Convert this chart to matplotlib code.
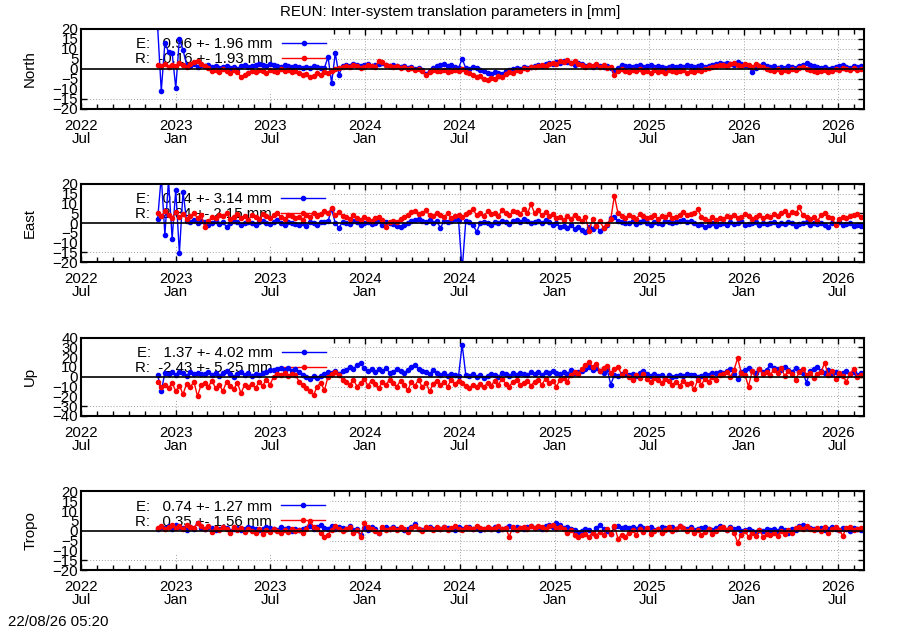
import matplotlib
matplotlib.use("Agg")
import matplotlib.pyplot as plt
import matplotlib.dates as mdates
from matplotlib.patches import Rectangle
import numpy as np
import pandas as pd

plt.rcParams['font.family'] = ['Liberation Sans', 'DejaVu Sans']
plt.rcParams['font.size'] = 10.8

# weekly samples (mm), first sample 2022-11-26
first_day = "2022-11-26"

north_e = [21.0, -11.0, 13.0, 8.5, 8.0, -9.5, 15.0, 9.5, 2.0, 1.5, 2.5, 1.0, 2.0,
           1.5, 2.0, 1.0, 1.5, 0.5, 1.0, 1.5, 0.5, 1.0, 0.0, 1.5, 2.0, 1.0,
           1.5, 2.0, 2.5, 2.0, 1.5, 2.5, 2.0, 1.5, 1.0, 2.0, 1.5, 1.0, 1.5,
           1.0, 0.5, 1.0, 0.5, 1.5, 1.0, 0.5, 0.5, 6.0, -7.0, 8.0, -3.0, 1.5,
           2.0, 1.5, 2.5, 2.0, 1.5, 2.0, 2.5, 1.5, 2.0, 2.5, 3.0, 2.0, 1.5,
           2.0, 1.5, 1.0, 1.5, 0.5, 1.0, 0.0, 0.5, -0.5, -2.5, -1.0, 0.5, 1.5,
           2.0, 2.5, 1.5, 2.0, 1.0, 0.5, 5.0, 0.5, 0.0, 1.0, 0.5, -0.5, -1.0,
           -2.0, -2.5, -1.5, -2.0, -2.5, -1.0, -0.5, 0.0, 0.5, 0.0, 1.0, 0.5, 1.0,
           1.5, 2.0, 1.5, 2.5, 3.0, 2.5, 3.5, 3.0, 4.0, 3.5, 3.0, 2.0, 3.0,
           2.5, 1.5, 2.0, 1.0, 2.0, 1.5, 1.0, 1.5, 0.5, -1.0, 0.5, 2.0, 1.5,
           1.5, 1.0, 1.5, 2.0, 1.0, 1.5, 2.0, 1.0, 1.5, 1.0, 0.5, 1.0, 1.5,
           1.0, 1.5, 1.0, 2.0, 1.5, 1.0, 1.5, 2.0, 1.0, 1.5, 2.0, 2.5, 3.0,
           2.5, 3.0, 2.5, 2.0, 3.5, 2.5, 2.0, 1.5, -1.5, 0.5, 1.5, 2.5, 1.5,
           1.0, 1.5, 0.5, 1.0, 0.5, 1.5, 1.0, 0.5, 1.5, 2.0, 3.0, 2.0, 1.5,
           1.0, 0.5, 1.0, 0.0, 0.5, 1.0, 1.5, 2.0, 1.0, 0.5, 1.5, 1.0, 1.5]
north_r = [2.0, 1.5, 2.5, 1.0, 2.0, 1.5, 3.0, 2.0, 1.0, 2.5, 3.5, 4.0, 2.5,
           1.5, 0.5, -1.0, -0.5, -1.5, 0.0, -1.0, -2.0, -0.5, -1.5, -4.0, -3.0, -2.0,
           -1.0, -1.5, -0.5, -1.0, -2.0, -0.5, -1.0, -1.5, 0.0, -1.0, -0.5, -1.5, -1.0,
           -2.0, -3.0, -2.5, -4.0, -3.5, -2.0, -3.0, -1.5, -2.0, -1.0, 0.0, 0.5, 1.0,
           1.5, 1.0, 2.0, 1.5, 0.5, 1.0, 2.0, 1.5, 1.0, 4.0, 3.5, 2.0, 1.5,
           1.0, 1.5, 0.5, 1.0, 0.0, 0.5, -0.5, 0.0, -1.0, -3.0, -1.5, -0.5, -1.0,
           -1.0, -0.5, -1.5, -1.0, -0.5, -1.0, 0.0, -1.5, -2.0, -3.0, -4.0, -3.5, -5.0,
           -5.5, -4.5, -5.0, -3.5, -4.0, -2.5, -1.5, -2.0, -0.5, -1.0, 0.5, 0.0, 1.0,
           1.0, 1.5, 2.0, 1.5, 2.5, 3.0, 2.5, 4.0, 3.5, 4.5, 3.0, 4.0, 2.5,
           2.0, 1.0, 2.0, 1.5, 2.5, 1.0, 2.0, 0.5, 1.0, -3.0, -1.0, 0.0, -1.0,
           -1.5, -0.5, -1.0, 0.0, -1.5, -1.0, -2.0, -0.5, -1.5, -1.0, -2.0, -0.5, -1.0,
           -1.5, -1.0, -0.5, -2.0, -1.0, -1.5, -0.5, -1.0, 0.0, 0.5, 1.0, 1.5, 2.0,
           2.0, 1.5, 2.5, 3.0, 2.0, 1.5, 2.5, 2.0, 1.0, 2.5, 1.5, 1.0, 0.0,
           -0.5, -1.0, 0.0, -1.5, -0.5, -1.0, 0.0, -0.5, 0.5, 1.0, 0.0, -0.5, -1.0,
           -1.5, -1.0, -0.5, -1.5, -1.0, 0.0, -0.5, 0.5, 0.0, -0.5, 0.5, -0.5, 0.0]

east_e = [2.0, 24.0, -6.0, 22.0, -8.0, 17.0, -15.5, 16.0, 1.0, 0.5, 1.5, 0.0, 1.0,
          0.5, -1.0, 0.0, 1.0, -0.5, 0.5, -2.0, 0.0, 1.0, 0.5, -1.0, 0.0, 0.5,
          0.0, -1.0, 0.5, 1.0, 0.0, -0.5, 0.5, 1.5, 0.0, -1.0, 0.5, 0.0, -0.5,
          -1.0, 0.0, -1.5, 0.5, 0.0, -1.0, 0.5, 0.5, 1.0, 7.0, 0.0, -2.5, 0.5,
          0.0, -0.5, 1.0, 0.5, -1.0, 0.0, 0.5, -0.5, 0.0, 1.0, -1.0, 0.5, 0.0,
          -0.5, -1.5, -2.0, -1.0, 0.0, 1.0, 1.5, 2.0, 1.0, 0.5, 1.5, 0.0, 1.0,
          -2.5, 1.0, 0.5, 1.0, 2.0, 1.5, -24.0, 1.0, 0.5, -1.0, -4.5, 0.0, 0.5,
          0.0, -1.0, 0.5, 0.0, 1.0, 0.5, -0.5, 1.0, 1.5, 0.5, 2.0, 1.0, 0.0,
          0.5, 1.0, 0.0, 1.5, 0.5, -1.0, 0.0, -2.0, -1.5, -2.5, -1.0, -3.0, -2.0,
          -3.5, -4.5, -2.0, -3.0, -1.5, -4.0, -2.5, -1.0, 2.5, 3.0, 1.0, 0.5, 0.0,
          0.0, 1.0, -0.5, 0.5, 1.0, 0.0, -1.0, 0.5, 0.0, -0.5, 1.0, 0.5, 0.0,
          0.5, 1.0, 1.5, 0.5, 1.0, 0.0, -1.0, -0.5, -2.0, -1.0, 0.0, -1.5, -0.5,
          0.0, -1.0, 0.5, -0.5, 0.0, 1.0, -1.0, -0.5, 0.0, 0.5, -1.0, 0.0, -0.5,
          0.0, 0.5, -1.0, 0.0, -0.5, 0.5, 0.0, -1.5, -0.5, 0.0, 0.5, -1.0, 0.0,
          -0.5, 0.0, -1.0, -2.0, 0.0, -0.5, 0.5, -1.0, -0.5, 0.0, -1.5, -1.0, -1.5]
east_r = [5.0, 3.5, 6.0, 4.0, 2.5, 5.5, 3.0, 4.5, 2.0, 3.5, 5.0, 2.5, 4.0,
          -2.0, 1.0, 3.0, 2.5, 4.0, 3.5, 5.0, 2.0, 3.0, 4.5, 2.5, 3.5, 1.5,
          4.0, 3.0, 2.0, 4.5, 3.5, 2.5, 4.0, 5.0, 3.0, 2.0, 4.0, 3.5, 2.5,
          3.0, 1.5, 4.0, 3.0, 5.0, 3.5, 4.5, 6.0, 5.0, 7.5, 4.0, 5.5, 3.5,
          3.0, 2.0, 4.0, 2.5, 1.5, 3.0, 2.0, 1.0, 2.5, 3.0, 1.5, -2.0, 0.5,
          1.0, 0.5, 2.0, 3.0, 4.0, 5.5, 6.0, 4.5, 5.0, 6.5, 4.0, 3.5, 5.0,
          4.0, 3.0, 5.0, 2.5, 3.5, 4.0, 3.0, 4.5, 5.5, 7.0, 4.0, 5.0, 3.5,
          6.0, 4.5, 5.0, 3.5, 6.5, 5.0, 4.0, 6.0, 5.5, 4.5, 7.0, 5.0, 9.5,
          5.0, 6.5, 4.0, 5.5, 3.5, 4.5, 2.5, 3.0, 1.5, 3.5, 2.0, 4.0, 2.5,
          1.0, 3.0, -4.0, 2.0, -1.5, 1.0, -2.5, -0.5, 2.0, 14.0, 5.0, 3.5, 2.5,
          4.0, 3.0, 2.0, 4.5, 3.5, 2.5, 3.0, 4.0, 2.0, 3.5, 3.0, 4.5, 2.5,
          3.0, 4.0, 5.5, 4.0, 4.5, 5.0, 7.0, 3.0, 2.0, 1.0, 3.0, 1.5, 2.5,
          2.0, 3.5, 3.0, 4.0, 2.5, 3.0, 4.5, 3.5, 2.0, 3.0, 4.0, 2.5, 3.5,
          3.0, 4.5, 3.5, 5.0, 6.0, 4.0, 5.5, 5.0, 8.0, 4.0, 3.0, 2.0, 3.0,
          1.0, 4.0, 5.0, 3.0, 2.5, -1.0, 2.0, 3.0, 2.5, 3.5, 4.0, 4.5, 3.0]

up_e = [2.0, -15.0, 4.0, 3.0, 5.0, 2.0, 4.5, 3.5, 1.0, 5.0, 3.0, 4.0, 2.5,
        3.0, 5.0, 2.0, 4.0, 1.0, 3.5, 6.0, 2.5, 0.0, 3.0, 4.5, 2.0, 3.5,
        1.0, 3.0, 2.0, 4.0, 5.0, 7.0, 6.5, 8.0, 9.0, 7.0, 8.5, 6.0, 7.5,
        5.0, 2.0, 0.0, -2.0, 1.0, -1.0, 0.5, 3.0, 5.0, 4.0, 6.0, 3.0, 5.5,
        7.0, 10.0, 8.0, 12.0, 14.0, 9.0, 6.0, 8.0, 5.0, 7.5, 6.0, 9.0, 4.0,
        5.0, 8.0, 6.0, 4.0, 7.0, 10.0, 12.0, 8.0, 6.0, 5.0, 3.0, 6.5, 4.0,
        2.0, 4.0, 1.0, 3.0, 2.0, 0.5, 33.0, 2.0, 1.0, 3.0, 0.0, 2.0, -1.0,
        1.0, 3.0, 2.0, 0.0, 4.0, 2.5, 1.0, 3.5, 2.0, 4.0, 3.0, 1.5, 5.0,
        3.0, 4.5, 2.0, 5.0, 3.5, 6.0, 4.0, 2.5, 5.0, 3.0, 6.5, 4.0, 5.0,
        6.0, 8.0, 10.0, 7.0, 9.0, 6.0, 4.0, 7.5, -8.0, 2.0, 1.0, 3.0, 2.5,
        2.0, 3.0, 1.0, 4.0, 6.0, 2.5, 1.0, 3.0, 0.5, 2.0, -1.0, 1.5, 0.0,
        1.0, 2.0, 0.5, 3.0, 1.5, 2.0, 0.0, 1.0, 3.0, 2.0, 4.0, 3.5, 5.0,
        4.0, 6.0, 8.0, 3.0, -2.0, 5.0, 7.0, 9.0, 6.0, 4.0, 8.0, 5.0, 7.0,
        12.0, 9.0, 8.0, 7.0, 10.0, 7.0, 5.0, 9.0, 6.0, 4.0, -6.0, 6.0, 8.0,
        10.0, 6.0, 4.0, 7.0, 3.0, 5.0, 2.0, 4.0, 6.0, 3.0, 5.0, 2.0, 4.0]
up_r = [-5.0, -10.0, -8.0, -12.0, -6.0, -15.0, -9.0, -18.0, -7.0, -11.0, -5.0, -20.0, -8.0,
        -6.0, -10.0, -4.0, -12.0, -8.0, -15.0, -5.0, -9.0, -13.0, -6.0, -17.0, -8.0, -10.0,
        -7.0, -12.0, -5.0, -9.0, -3.0, -8.0, 0.0, 3.0, 2.0, 4.0, 1.0, 3.0, 2.0,
        -5.0, -8.0, -12.0, -15.0, -19.0, -10.0, -6.0, -14.0, 0.0, 3.0, 5.0, 2.0, -3.0,
        -5.0, -8.0, -3.0, -10.0, -6.0, -2.0, -9.0, -4.0, -7.0, -12.0, -5.0, -8.0, -3.0,
        -6.0, -10.0, -4.0, -8.0, -14.0, -5.0, -9.0, -3.0, -11.0, -6.0, -15.0, -7.0, -4.0,
        -8.0, -5.0, -10.0, -3.0, -7.0, -4.0, -6.0, -9.0, -12.0, -8.0, -10.0, -7.0, -11.0,
        -6.0, -9.0, -4.0, -8.0, -2.0, -7.0, -10.0, -5.0, -3.0, -8.0, -6.0, -4.0, -9.0,
        -5.0, -3.0, -8.0, -2.0, -6.0, -4.0, -10.0, -3.0, -1.0, -5.0, 2.0, 5.0, 3.0,
        8.0, 12.0, 15.0, 10.0, 13.0, 6.0, 9.0, 11.0, 4.0, 8.0, 10.0, 2.0, 6.0,
        0.0, -3.0, 2.0, -1.0, 3.0, -2.0, -5.0, -1.0, -3.0, -6.0, -2.0, -4.0, -8.0,
        -5.0, -9.0, -4.0, -7.0, -6.0, -13.0, -3.0, -8.0, -2.0, -5.0, 0.0, -3.0, 2.0,
        3.0, 5.0, 0.0, 7.0, 19.0, 4.0, 2.0, -10.0, 6.0, -2.0, 8.0, 3.0, 5.0,
        2.0, 7.0, 4.0, 9.0, 1.0, 6.0, 3.0, -3.0, 5.0, 8.0, 2.0, 4.0, -1.0,
        3.0, 5.0, 14.0, 2.0, 6.0, -2.0, 4.0, 1.0, -5.0, 3.0, 8.0, 0.0, 2.0]

tropo_e = [1.0, 2.0, 1.5, 2.5, 1.0, 3.0, 2.0, 1.5, 0.5, 2.0, 1.0, 4.0, 1.5,
           1.0, 2.0, 1.5, 0.5, 1.0, 2.0, 1.5, 0.0, 1.0, 1.5, 0.5, 1.0, 2.0,
           1.5, 1.0, 0.5, 1.0, 2.0, 1.5, 1.0, 0.5, 2.0, 1.0, 1.5, 0.0, 1.0,
           0.5, 1.0, 1.5, 2.5, 1.0, 2.0, 3.0, 1.5, 1.0, 2.5, 1.0, 2.0, 1.5,
           1.0, 2.5, 0.5, 1.0, -2.0, 1.5, 0.5, 2.0, 1.0, -1.0, 1.5, 2.0, 1.0,
           2.0, 1.0, 1.5, 0.5, 1.0, 2.0, 3.5, 1.0, 0.5, 1.5, 2.0, 1.0, 1.5,
           1.0, 2.0, 1.5, 1.0, 0.5, 2.0, 1.0, 1.5, 2.0, 1.0, 1.5, 0.5, 1.0,
           1.5, 1.0, 2.0, 0.5, 1.0, 1.5, 2.5, 1.0, 2.0, 1.5, 1.0, 2.0, 2.5,
           1.5, 2.0, 1.0, 2.5, 3.0, 2.0, 4.0, 3.0, 1.5, 2.0, 1.0, 0.5, -1.0,
           0.0, 1.0, 0.5, -1.0, 1.5, 3.0, 1.0, 0.0, -1.5, 2.0, 2.5, 1.5, 2.0,
           1.5, 2.0, 1.0, 2.5, 1.5, 1.0, 2.0, 0.5, 1.0, 2.0, 1.5, 1.0, 2.0,
           1.0, 2.5, 1.5, 1.0, 2.0, 0.5, 1.0, 1.5, 2.0, 1.0, 0.5, 1.5, 2.5,
           1.5, 0.5, 2.0, 1.0, 1.5, 0.0, 0.5, 1.0, 0.0, -0.5, 0.5, 0.0, 1.0,
           0.5, 1.0, 0.0, 1.5, 0.5, -1.0, 1.0, 0.5, 2.5, 3.0, 2.0, 1.5, 1.0,
           1.0, 1.5, 0.5, 1.0, 2.0, 1.0, 0.5, 1.5, 1.0, 0.0, 1.5, 1.0, 0.5]
tropo_r = [1.5, 2.5, 1.0, 2.0, 3.0, 1.5, 2.5, 1.0, 3.0, 2.0, 1.5, 4.0, 2.5,
           1.0, 2.5, -0.5, 1.5, 0.5, 2.0, 1.0, -1.0, 2.0, 0.5, 1.5, -0.5, 1.0,
           0.0, -1.0, 1.0, -1.5, 0.5, -0.5, 1.0, 0.0, -1.0, 0.5, -0.5, 1.0, 0.0,
           0.5, -1.0, 1.0, 5.0, 2.0, 1.0, -1.0, -3.0, -2.0, 0.5, 2.5, 1.0, 0.0,
           1.0, 2.0, -1.0, 0.5, -3.0, 4.0, 2.0, 1.0, 0.0, -1.0, 2.0, 0.5, 1.0,
           1.5, 0.5, 2.0, 1.0, -0.5, 1.5, 2.5, 1.0, 0.0, 2.0, 1.5, 0.5, 2.0,
           1.0, 2.0, 0.5, 1.5, 2.5, 1.0, 0.5, 2.0, 1.5, 1.0, 2.5, 1.5, 1.0,
           2.0, 1.0, 1.5, 2.5, 1.0, 1.5, -3.0, 2.0, 0.5, 1.5, 2.0, 1.0, 2.5,
           1.5, 2.5, 2.0, 1.0, 2.5, 3.0, 1.5, 2.0, 1.0, -1.0, 0.5, -2.0, -3.0,
           -2.0, -1.5, -3.0, -1.0, -2.5, -0.5, -2.0, 1.0, -1.5, 2.5, -4.0, -2.0, -3.0,
           -1.0, 0.5, -2.0, 1.0, -0.5, 1.5, -1.5, 0.0, 1.0, -1.0, 0.5, 2.0, 0.0,
           1.0, 2.5, 1.5, 0.0, 1.0, -1.0, 0.5, -2.0, -0.5, 1.0, -1.5, 0.0, 1.5,
           2.0, 0.5, 1.5, -1.0, -6.0, -2.0, 0.0, -3.0, -1.0, -2.5, 0.5, -3.0, -1.5,
           -2.0, -1.0, -2.5, 0.0, -1.5, 0.5, -1.0, 1.5, 2.0, 1.0, 2.5, 1.0, 0.5,
           1.5, 0.0, 2.0, -1.0, 1.0, 2.0, 0.5, -2.5, 1.5, 2.0, 0.5, 1.0, 1.5]

panel_names = ["North", "East", "Up", "Tropo"]
panel_limits = [20, 20, 40, 20]
panel_steps = [5, 5, 10, 5]
e_labels = ["E:   0.96 +- 1.96 mm", "E:   0.14 +- 3.14 mm",
            "E:   1.37 +- 4.02 mm", "E:   0.74 +- 1.27 mm"]
r_labels = ["R:  -0.16 +- 1.93 mm", "R:   2.84 +- 2.15 mm",
            "R:  -2.43 +- 5.25 mm", "R:   0.35 +- 1.56 mm"]
e_series = [north_e, east_e, up_e, tropo_e]
r_series = [north_r, east_r, up_r, tropo_r]

tick_dates = pd.date_range("2022-07-01", "2026-07-01", freq="6MS")
tick_labels = ["2022\nJul", "2023\nJan", "2023\nJul", "2024\nJan", "2024\nJul",
               "2025\nJan", "2025\nJul", "2026\nJan", "2026\nJul"]

# axes boxes in figure fraction (left, bottom, width, height)
boxes = [(0.09, 0.827, 0.87, 0.127),
         (0.09, 0.584, 0.87, 0.124),
         (0.09, 0.340, 0.87, 0.124),
         (0.09, 0.095, 0.87, 0.125)]

fig = plt.figure(figsize=(9, 6.3), dpi=100)

for k in range(4):
    ax = fig.add_axes(boxes[k])
    ax.set_axisbelow(True)
    d_e = pd.date_range(first_day, periods=len(e_series[k]), freq="7D")
    d_r = pd.date_range(first_day, periods=len(r_series[k]), freq="7D")
    le, = ax.plot(d_e, e_series[k], '-o', color='#0000ff', lw=1.0, ms=3.0, label=e_labels[k])
    lr, = ax.plot(d_r, r_series[k], '-o', color='#ff0000', lw=1.0, ms=3.0, label=r_labels[k])
    ax.axhline(0, color='black', lw=1.2, zorder=3)

    lim = panel_limits[k]
    ax.set_ylim(-lim, lim)
    ax.set_yticks(np.arange(-lim, lim + 1, panel_steps[k]))
    ax.set_xlim(pd.Timestamp("2022-07-01"), pd.Timestamp("2026-08-21"))
    ax.set_xticks(tick_dates)
    ax.set_xticklabels(tick_labels, linespacing=0.92)
    ax.xaxis.set_minor_locator(mdates.MonthLocator())

    ax.tick_params(axis='both', which='both', direction='in', top=True, right=True,
                   width=1, colors='black')
    ax.tick_params(axis='x', which='major', length=4, pad=7)
    ax.tick_params(axis='x', which='minor', length=3.5)
    ax.tick_params(axis='y', which='major', length=4, pad=2)
    ax.grid(True, which='major', color='#a0a0a0', linestyle=(0, (1, 2)), lw=0.7)
    for s in ax.spines.values():
        s.set_linewidth(1.5)

    ax.set_ylabel(panel_names[k])
    ax.yaxis.set_label_coords(-0.056, 0.5)

    # opaque key area hides the grid
    ax.add_patch(Rectangle((0, 0.2), 0.318, 0.8, transform=ax.transAxes,
                           facecolor='white', edgecolor='none', zorder=1))
    leg = ax.legend(handles=[le, lr], loc='upper left', bbox_to_anchor=(0.069, 0.895),
                    frameon=False, markerfirst=False, numpoints=1, handlelength=2.95,
                    handletextpad=0.6, borderpad=0, borderaxespad=0, labelspacing=0.07)
    leg.set_zorder(1.5)

fig.text(0.5, 1 - 12 / 630, "REUN: Inter-system translation parameters in [mm]",
         ha='center', va='center')
fig.text(8 / 900, 1 - 622 / 630, "22/08/26 05:20", ha='left', va='center')

fig.savefig("out.png", dpi=100)
